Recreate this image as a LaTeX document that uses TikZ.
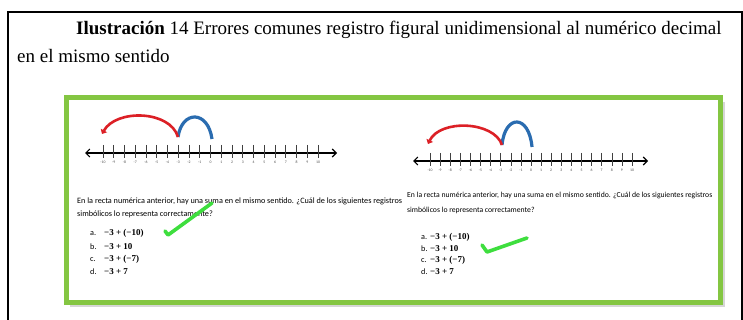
\documentclass[tikz,border=0pt]{standalone}
\usepackage{fontspec}
\setmainfont{Liberation Serif}
\newfontfamily\calibri{Carlito}
\usetikzlibrary{arrows.meta}

\definecolor{framegreen}{RGB}{132,198,66}
\definecolor{checkgreen}{RGB}{62,222,62}
\definecolor{arcred}{RGB}{220,32,38}
\definecolor{arcblue}{RGB}{42,108,176}

\begin{document}
\begin{tikzpicture}[x=1pt, y=-1pt,
    numline/.style={<->, >={Straight Barb[length=4pt,width=8pt]}, line width=1.1pt},
    nltick/.style={line width=0.6pt, black!75},
    nllabel/.style={inner sep=0pt, font=\calibri\fontsize{3.8}{4}\selectfont, text=black!70},
    jumpred/.style={arcred, line width=2.6pt, -{Triangle[length=4pt,width=7pt]}},
    jumpblue/.style={arcblue, line width=3.2pt},
    checkmark/.style={checkgreen, line width=3.6pt, line cap=round, line join=round},
    question/.style={anchor=base west, inner sep=0pt, font=\calibri\fontsize{8.2}{9}\selectfont},
    option/.style={anchor=base west, inner sep=0pt, font=\fontsize{9}{10}\selectfont\bfseries}]
\useasboundingbox (0,0) rectangle (743,320);
\fill[white] (0,0) rectangle (743,320);

% outer frame and caption
\draw[line width=1.3pt] (8,320) -- (8,12) -- (742,12) -- (742,320);
\node[anchor=base west, inner sep=0pt, font=\fontsize{19}{22}\selectfont] (title1) at (76,35)
    {\textbf{Ilustración} 14 Errores comunes registro figural unidimensional al numérico decimal};
\node[anchor=base west, inner sep=0pt, font=\fontsize{19}{22}\selectfont] (title2) at (17,63)
    {en el mismo sentido};

% green frame
\fill[black!16] (70,102) rectangle (725,307);
\draw[framegreen, line width=5pt, fill=white] (66,98) rectangle (720,302);

% left number line
\draw[numline] (85,153) -- (337,153);
\foreach \n in {-10,...,10}
    \draw[nltick] ({210.5+10.75*\n},145) -- ({210.5+10.75*\n},158)
        node[nllabel, below=3pt] (ll\n) {\n};
\coordinate (lz) at (212,139);
\coordinate (lm3) at (178,137);
\coordinate (lm10) at (102,134);
\draw[jumpblue] (lz) .. controls (208,110) and (182,110) .. (lm3);
\draw[jumpred] (lm3) .. controls (170,110) and (116,109) .. (lm10);

% right number line
\draw[numline] (413,161) -- (648,161);
\foreach \n in {-10,...,10}
    \draw[nltick] ({531+10.1*\n},153) -- ({531+10.1*\n},166)
        node[nllabel, below=3pt] (rl\n) {\n};
\coordinate (rz) at (532,147);
\coordinate (rm3) at (502,145);
\coordinate (rm10) at (428,144);
\draw[jumpblue] (rz) .. controls (529,114) and (505,114) .. (rm3);
\draw[jumpred] (rm3) .. controls (494,121) and (440,119) .. (rm10);

% left question
\node[question] (lq1) at (77,204) {En la recta numérica anterior, hay una suma en el mismo sentido. ¿Cuál de los siguientes registros};
\node[question] (lq2) at (77,216) {simbólicos lo representa correctamente?};
\node[question] (la) at (90,235) {a.};
\node[question] (lb) at (90,249) {b.};
\node[question] (lc) at (90,261) {c.};
\node[question] (ld) at (90,274) {d.};
\node[option] (lao) at (104,235) {−3 + (−10)};
\node[option] (lbo) at (104,249) {−3 + 10};
\node[option] (lco) at (104,261) {−3 + (−7)};
\node[option] (ldo) at (104,274) {−3 + 7};
\draw[checkmark] (165,231) -- (168,235) -- (212,203);

% right question
\node[question, font=\calibri\fontsize{7.7}{9}\selectfont] (rq1) at (407,198) {En la recta numérica anterior, hay una suma en el mismo sentido. ¿Cuál de los siguientes registros};
\node[question, font=\calibri\fontsize{7.7}{9}\selectfont] (rq2) at (407,213) {simbólicos lo representa correctamente?};
\node[question] (ra) at (421,239) {a.};
\node[question] (rb) at (421,251) {b.};
\node[question] (rc) at (421,262) {c.};
\node[question] (rd) at (421,274) {d.};
\node[option] (rao) at (430,239) {−3 + (−10)};
\node[option] (rbo) at (430,251) {−3 + 10};
\node[option] (rco) at (430,262) {−3 + (−7)};
\node[option] (rdo) at (430,274) {−3 + 7};
\draw[checkmark] (482,245) -- (487,252) -- (527,238);
\end{tikzpicture}
\end{document}
